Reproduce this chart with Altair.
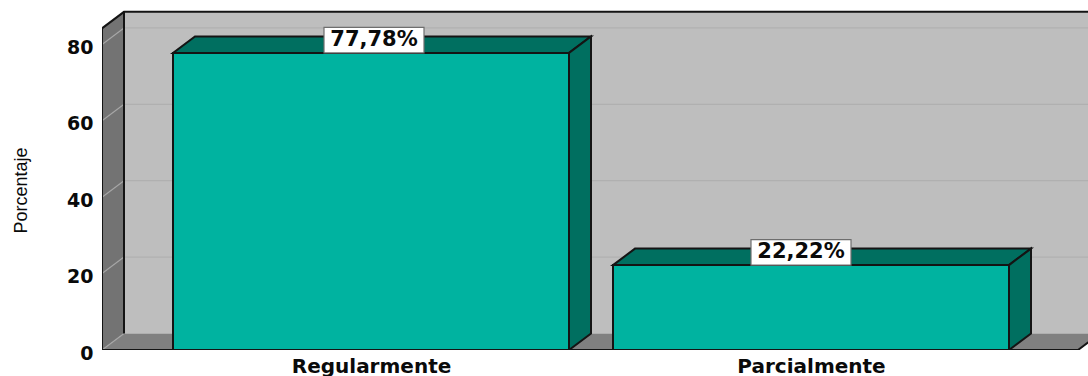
import altair as alt
import pandas as pd

# Values shown on the chart
categories = ["Regularmente", "Parcialmente"]
percentages = [77.78, 22.22]
value_labels = ["77,78%", "22,22%"]
y_ticks = [0, 20, 40, 60, 80]

# Layout of the pseudo-3D box, in x-scale units and y-scale units
X_MIN, X_MAX = 102, 1088
PX_PER_UNIT = 3.82
Y_MAX = 350 / PX_PER_UNIT
DX = 22
DY = 16.5 / PX_PER_UNIT
WALL_TOP = 84.2
FLOOR_END = 1078
bar_left = [173, 613]
bar_right = [569, 1009]
label_center = [374, 801]
LABEL_HALF = 50
LABEL_HEIGHT = 25.5 / PX_PER_UNIT

BAR = "#00B3A0"
BAR_DARK = "#006F60"
BACK = "#BEBEBE"
WALL = "#737373"
FLOOR = "#808080"
INK = "#141414"
STROKE = 2

x_scale = alt.Scale(domain=[X_MIN, X_MAX], nice=False, zero=False)
y_scale = alt.Scale(domain=[0, Y_MAX], nice=False)
x_centers = [(l + r) / 2 for l, r in zip(bar_left, bar_right)]
label_expr = " : ".join(
    f"datum.value == {c} ? '{n}'" for c, n in zip(x_centers, categories)
) + " : ''"

x_axis = alt.Axis(
    values=x_centers, labelExpr=label_expr, domain=False, ticks=False, grid=False,
    labelFont="DejaVu Sans", labelFontWeight="bold", labelFontSize=20,
    labelColor="#0A0A0A", labelPadding=6, labelOverlap=False, labelFlush=False,
)
y_axis = alt.Axis(
    values=y_ticks, domain=False, ticks=False, grid=False, labelPadding=9,
    labelFont="DejaVu Sans", labelFontWeight="bold", labelFontSize=19,
    labelColor="#0A0A0A", labelOffset=3,
    titleFont="Liberation Sans", titleFontWeight="normal", titleFontSize=18,
    titleColor="#0A0A0A", titleX=-72, titleY=190,
)


def x_enc(field):
    return alt.X(field, scale=x_scale, title=None, axis=x_axis)


def y_enc(field):
    return alt.Y(field, scale=y_scale, title="Porcentaje", axis=y_axis)


def face(rows, color, stroke=None):
    """Filled polygon described by (x, lower y, upper y) columns."""
    df = pd.DataFrame(rows, columns=["x", "y", "y2"])
    kwargs = dict(color=color, clip=True, interpolate="linear", opacity=1)
    if stroke:
        kwargs.update(stroke=stroke, strokeWidth=STROKE)
    return alt.Chart(df).mark_area(**kwargs).encode(
        x=x_enc("x:Q"), y=y_enc("y:Q"), y2="y2:Q",
    )


def path(points, color=INK, width=STROKE):
    df = pd.DataFrame(points, columns=["x", "y"]).reset_index()
    return alt.Chart(df).mark_line(
        color=color, strokeWidth=width, clip=True
    ).encode(
        x=x_enc("x:Q"), y=y_enc("y:Q"), order="index:Q",
    )


layers = []

# Back wall, floor and left wall
layers.append(face([(X_MIN + DX, DY, WALL_TOP + DY), (X_MAX + DX, DY, WALL_TOP + DY)], BACK))
for v in y_ticks[1:]:
    layers.append(path([(X_MIN + DX, v + DY), (X_MAX + DX, v + DY)], "#B0B0B0", 1.2))
layers.append(face([(X_MIN, 0, 0), (X_MIN + DX, 0, DY), (FLOOR_END, 0, DY), (FLOOR_END + DX, DY, DY)], FLOOR))
layers.append(face([(X_MIN, 0, WALL_TOP), (X_MIN + DX, DY, WALL_TOP + DY)], WALL))
for v in y_ticks:
    layers.append(path([(X_MIN, v), (X_MIN + DX, v + DY)], "#A6A6A6", 1.2))

# Box outline
layers.append(path([(X_MIN, 0), (X_MIN, WALL_TOP), (X_MIN + DX, WALL_TOP + DY), (X_MAX + DX, WALL_TOP + DY)]))
layers.append(path([(X_MIN + DX, DY), (X_MIN + DX, WALL_TOP + DY)]))
layers.append(path([(X_MIN, 0), (FLOOR_END, 0), (FLOOR_END + DX, DY)]))

# Bars: front, top and side faces
for left, right, value in zip(bar_left, bar_right, percentages):
    layers.append(face([(left, 0, value), (right, 0, value)], BAR, INK))
    layers.append(face(
        [(left, value, value), (left + DX, value, value + DY),
         (right, value, value + DY), (right + DX, value + DY, value + DY)],
        BAR_DARK, INK))
    layers.append(face([(right, 0, value), (right + DX, DY, value + DY)], BAR_DARK, INK))

# Value labels in white boxes resting on the bars
labels = pd.DataFrame({
    "center": label_center,
    "left": [c - LABEL_HALF for c in label_center],
    "right": [c + LABEL_HALF for c in label_center],
    "bottom": percentages,
    "top": [p + LABEL_HEIGHT for p in percentages],
    "mid": [p + LABEL_HEIGHT / 2 for p in percentages],
    "text": value_labels,
})
layers.append(alt.Chart(labels).mark_rect(
    color="white", stroke="#6E6E6E", strokeWidth=1.2
).encode(
    x=x_enc("left:Q"), x2="right:Q", y=y_enc("bottom:Q"), y2="top:Q",
))
layers.append(alt.Chart(labels).mark_text(
    font="DejaVu Sans", fontSize=21, color="#0A0A0A", fontWeight="bold", baseline="middle"
).encode(
    x=x_enc("center:Q"), y=y_enc("mid:Q"), text="text:N",
))

chart = alt.layer(*layers).resolve_scale(x="shared", y="shared").properties(
    width=X_MAX - X_MIN,
    height=350,
    background="white",
    padding={"left": X_MIN, "top": 0, "right": 0, "bottom": 26},
    autosize=alt.AutoSizeParams(type="none"),
).configure_view(stroke=None)

chart.save("out.html", embed_options={"renderer": "svg", "actions": False})
